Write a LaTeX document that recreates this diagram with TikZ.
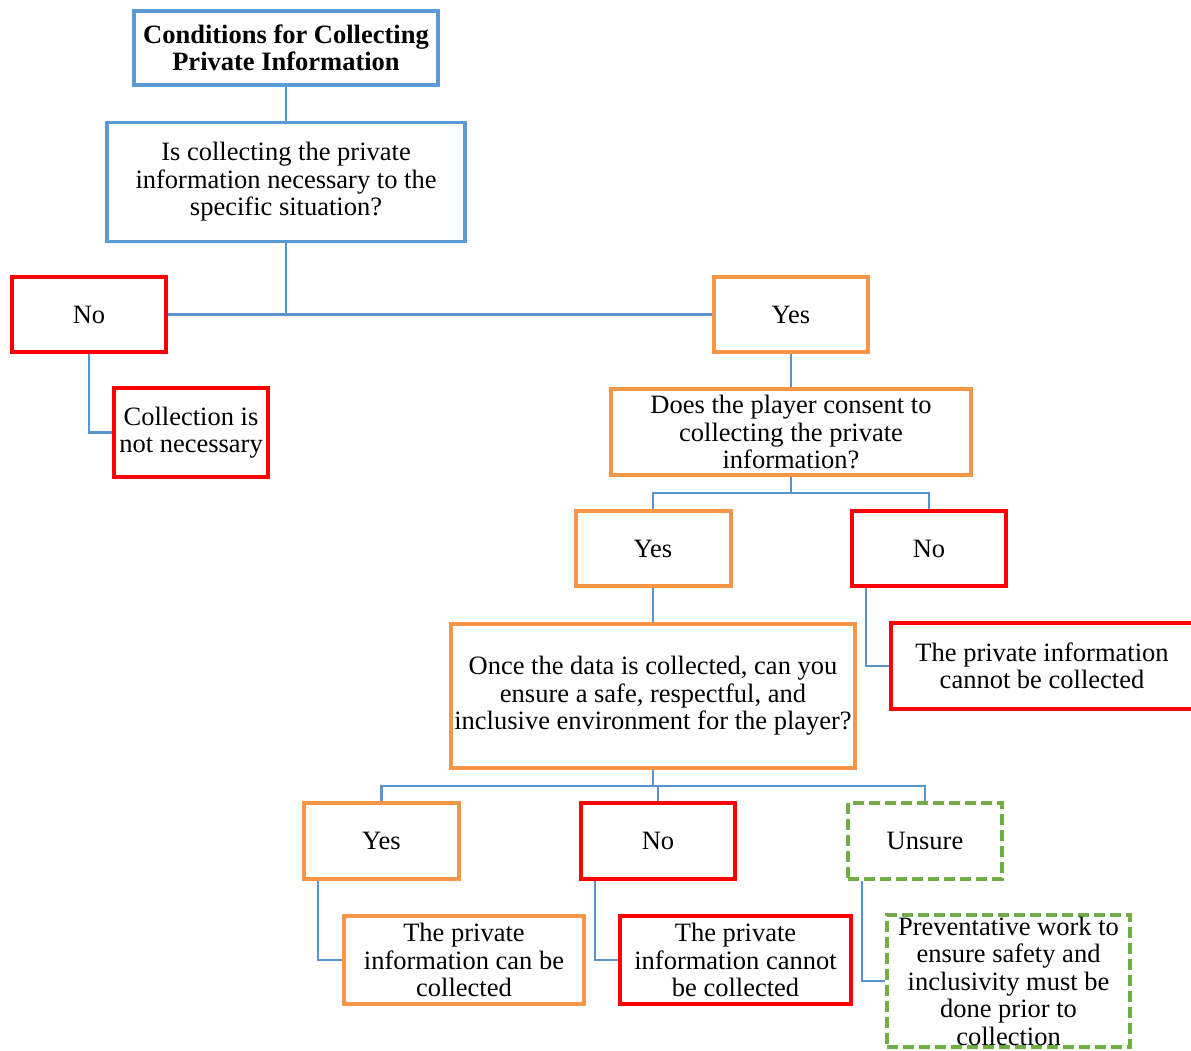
\documentclass[tikz,border=0pt]{standalone}
\usepackage{fontspec}
\setmainfont{Liberation Serif}
\usetikzlibrary{backgrounds}
\definecolor{boxblue}{HTML}{5B9BD5}
\definecolor{boxorange}{HTML}{F79646}
\definecolor{boxred}{HTML}{FF0000}
\definecolor{boxgreen}{HTML}{70AD47}
\definecolor{linkblue}{HTML}{5B93D0}
\begin{document}
\begin{tikzpicture}[x=1pt, y=-1pt,
    every node/.style={font=\fontsize{26.5}{27.5}\selectfont, align=center, inner sep=0pt},
    sz/.style 2 args={minimum width=#1pt, minimum height=#2pt},
    bluebox/.style={draw=boxblue, line width=3.5pt},
    orangebox/.style={draw=boxorange, line width=4pt},
    redbox/.style={draw=boxred, line width=4.5pt},
    greenbox/.style={draw=boxgreen, line width=4.5pt, dash pattern=on 11pt off 5pt},
    link/.style={draw=linkblue, line width=2.5pt}]
       \useasboundingbox (0,0) rectangle (1191,1051);
       % top of the tree
       \node[bluebox, line width=4.5pt, sz={304}{74}] (title) at (286,48) {\bfseries Conditions for Collecting\\\bfseries Private Information};
       \node[bluebox, sz={358}{119}] (q1) at (286,182) {Is collecting the private\\information necessary to the\\specific situation?};
       \node[redbox, sz={154}{75}] (no1) at (89,314.5) {No};
       \node[redbox, sz={154}{89}] (notneed) at (191,432.5) {Collection is\\not necessary};
       \node[orangebox, sz={154}{75}] (yes1) at (791,314.5) {Yes};
       % consent
       \node[orangebox, line width=3.5pt, sz={360}{86}] (q2) at (791,432) {Does the player consent to\\collecting the private\\information?};
       \node[orangebox, sz={155}{75}] (yes2) at (653,548.5) {Yes};
       \node[redbox, sz={154}{75}] (no2) at (929,548.5) {No};
       \node[redbox, sz={302}{86}] (cannot2) at (1042,666) {The private information\\cannot be collected};
       % environment
       \node[orangebox, sz={404}{144}] (q3) at (653,696) {Once the data is collected, can you\\ensure a safe, respectful, and\\inclusive environment for the player?};
       \node[orangebox, sz={155}{76}] (yes3) at (381.5,841) {Yes};
       \node[redbox, sz={154}{76}] (no3) at (658,841) {No};
       \node[greenbox, sz={154}{76}] (unsure) at (925,841) {Unsure};
       \node[orangebox, sz={240}{88}] (can) at (464,960) {The private\\information can be\\collected};
       \node[redbox, sz={231}{88}] (cannot3) at (735.5,960) {The private\\information cannot\\be collected};
       \node[greenbox, sz={243}{132}] (prevent) at (1008.5,981) {Preventative work to\\ensure safety and\\inclusivity must be\\done prior to\\collection};
       % connectors
       \begin{scope}[on background layer]
       \draw[link] (title.south) -- (q1.north);
       \draw[link] (no1.east) -- (yes1.west);
       \draw[link] (q1.south) -- (q1.south |- no1.east);
       \draw[link] (no1.south) |- (notneed.west);
       \draw[link] (yes1.south) -- (q2.north);
       \draw[link] (q2.south) -- ++(0,16) coordinate (j2);
       \draw[link] (yes2.north) |- (j2) -| (no2.north);
       \draw[link] ([xshift=16pt]no2.south west) |- (cannot2.west);
       \draw[link] (yes2.south) -- (q3.north);
       \draw[link] (q3.south) -- ++(0,16) coordinate (j3);
       \draw[link] (yes3.north) |- (j3) -| (unsure.north);
       \draw[link] (no3.north) -- (no3.north |- j3);
       \draw[link] ([xshift=16pt]yes3.south west) |- (can.west);
       \draw[link] ([xshift=16pt]no3.south west) |- (cannot3.west);
       \draw[link] ([xshift=16pt]unsure.south west) |- (prevent.west);
       \end{scope}
   \end{tikzpicture}
\end{document}
